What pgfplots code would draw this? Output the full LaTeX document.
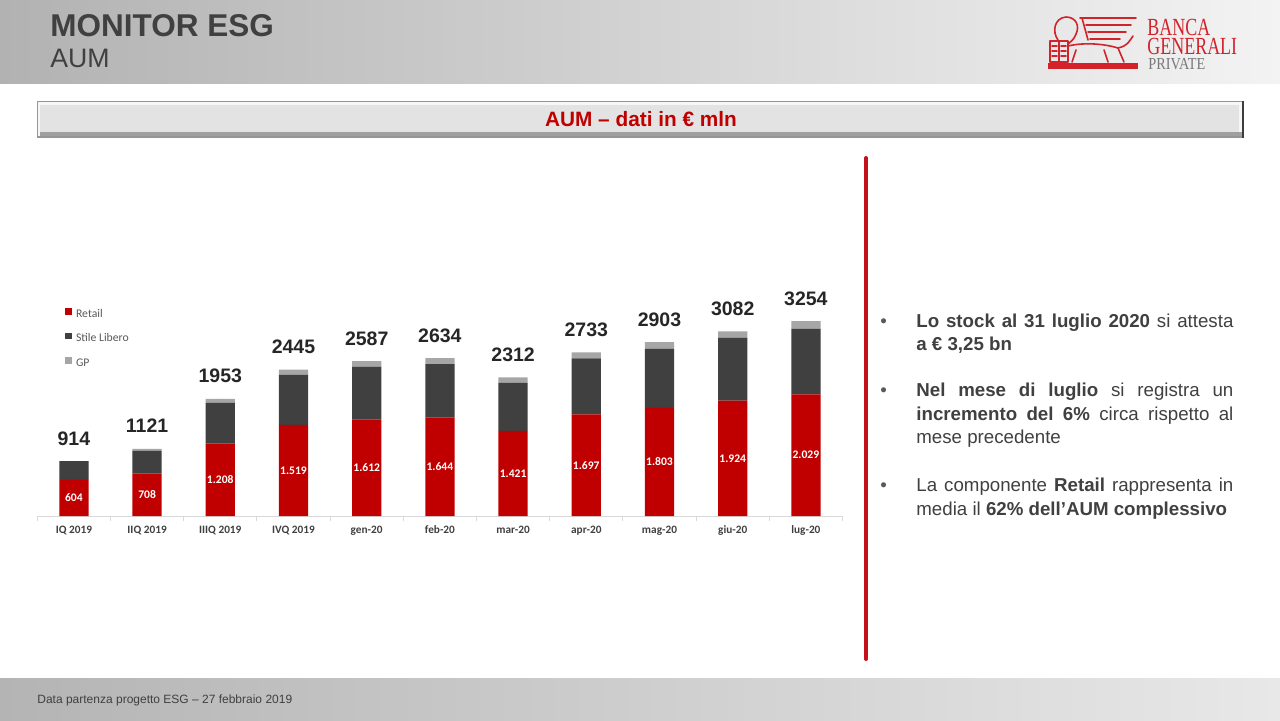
\documentclass[border=0pt]{standalone}
\usepackage{pgfplots}
\pgfplotsset{compat=1.18}
\usepackage{pgfplotstable}
\usepackage{fontspec}
\setmainfont{Liberation Sans}
\newfontfamily\calfont{Carlito}
\newfontfamily\logoserif[FakeStretch=0.73]{Liberation Serif}
\newfontfamily\logoserifp[FakeStretch=0.85]{Liberation Serif}
\definecolor{bgred}{HTML}{C00000}
\definecolor{bgdark}{HTML}{404040}
\definecolor{bggp}{HTML}{A6A6A6}
\definecolor{logored}{HTML}{D2232A}
\definecolor{logogray}{HTML}{787878}
\definecolor{txt}{HTML}{404040}
\definecolor{bullgray}{HTML}{595959}
\definecolor{totc}{HTML}{262626}
\definecolor{vline}{HTML}{C3121C}
\definecolor{axgray}{HTML}{D9D9D9}
\definecolor{hdl}{HTML}{B2B2B2}
\definecolor{hdr}{HTML}{F3F3F3}
\definecolor{ftl}{HTML}{B4B4B4}
\definecolor{ftr}{HTML}{E8E8E8}
\definecolor{tbout}{HTML}{969696}
\definecolor{tblight}{HTML}{F6F6F6}
\definecolor{tbshadow}{HTML}{A0A0A0}
\definecolor{tbfill}{HTML}{E3E3E3}
\definecolor{tbdark}{HTML}{3C3C3C}
\pgfplotsset{sqlegend/.style={legend image code/.code={\fill[##1] (0pt,-0.2pt) rectangle (3.35pt,3.15pt);}}}

\pgfplotstableread{
x retail sl gp total rlab
0 604 310 0 914 604
1 708 378 35 1121 708
2 1208 685 60 1953 1.208
3 1519 836 90 2445 1.519
4 1612 880 95 2587 1.612
5 1644 890 100 2634 1.644
6 1421 801 90 2312 1.421
7 1697 936 100 2733 1.697
8 1803 990 110 2903 1.803
9 1924 1053 105 3082 1.924
10 2029 1095 130 3254 2.029
}\aum

\begin{document}
\begin{tikzpicture}[x=0.5pt,y=0.5pt]
\useasboundingbox (0,0) rectangle (1280,720);
\fill[white] (0,0) rectangle (1280,720);
\begin{scope}[y=-0.5pt, yshift=360pt]
% header
\shade[left color=hdl, right color=hdr] (0,0) rectangle (1280,83);
\node[anchor=base west, inner sep=0pt, text=txt, font=\bfseries\fontsize{15.75pt}{16pt}\selectfont] at (50,36) {MONITOR ESG};
\node[anchor=base west, inner sep=0pt, text=txt, font=\fontsize{13.35pt}{14pt}\selectfont] at (50,67) {AUM};
% logo
\begin{scope}[logored, line width=0.8pt, line cap=round, line join=round]
 \fill (1048,63) rectangle (1138,69);
 \draw (1050,41) rectangle (1068,62);
 \draw (1059,41)--(1059,62);
 \foreach \yy in {46,51,56} {\draw (1052,\yy)--(1057,\yy); \draw (1061,\yy)--(1066,\yy);}
 \draw (1058,40) .. controls (1052,32) and (1054,18) .. (1066,17) .. controls (1076,17) and (1080,26) .. (1076,34) .. controls (1074,40) and (1070,42) .. (1068,44);
 \draw (1080,18) -- (1136,18);
 \draw (1082,18) -- (1088,40);
 \draw (1086,25) -- (1131,25);
 \draw (1088,32) -- (1126,32);
 \draw (1090,39) -- (1120,39);
 \draw (1068,46) .. controls (1085,42) and (1105,44) .. (1118,48) -- (1124,62);
 \draw (1072,62) -- (1076,50);
 \draw (1108,62) -- (1104,50);
 \draw (1118,48) .. controls (1128,46) and (1130,40) .. (1133,36);
\end{scope}
\node[anchor=base west, inner sep=0pt, text=logored, font=\logoserif\fontsize{12.3pt}{13pt}\selectfont] at (1147,35) {BANCA};
\node[anchor=base west, inner sep=0pt, text=logored, font=\logoserif\fontsize{12.3pt}{13pt}\selectfont] at (1147,54.5) {GENERALI};
\node[anchor=base west, inner sep=0pt, text=logogray, font=\logoserifp\fontsize{8.4pt}{9pt}\selectfont] at (1148,69.5) {PRIVATE};
% title bar
\fill[tbout] (37,101) rectangle (1244,138);
\fill[tblight] (38,102) rectangle (1242,136);
\fill[tbshadow] (40,132) rectangle (1242,136);
\fill[tbfill] (40,105) rectangle (1239,132);
\fill[tbdark] (1242,101) rectangle (1244,138);
\node[anchor=base, inner sep=0pt, text=bgred, font=\bfseries\fontsize{10.4pt}{11pt}\selectfont] at (641,126.5) {AUM – dati in € mln};
% vertical red line
\draw[vline, line width=2pt, line cap=round] (866,158) -- (866,659);
% bullets
\begin{scope}[every node/.style={anchor=base west, inner sep=0pt, text=txt, font=\fontsize{9.35pt}{11.65pt}\selectfont}]
\node[text=bullgray] at (880,327) {•};
\node[text=bullgray] at (880,396.7) {•};
\node[text=bullgray] at (880,491.7) {•};
\node at (916,327) {\makebox[158.5pt][s]{\textbf{Lo stock al 31 luglio 2020} si attesta}};
\node at (916,350.3) {\textbf{a € 3,25 bn}};
\node at (916,396.7) {\makebox[158.5pt][s]{\textbf{Nel mese di luglio} si registra un}};
\node at (916,420) {\makebox[158.5pt][s]{\textbf{incremento del 6\%} circa rispetto al}};
\node at (916,443.3) {mese precedente};
\node at (916,491.7) {\makebox[158.5pt][s]{La componente \textbf{Retail} rappresenta in}};
\node at (916,515) {media il \textbf{62\% dell’AUM complessivo}};
\end{scope}
% footer
\shade[left color=ftl, right color=ftr] (0,678) rectangle (1280,720);
\node[anchor=base west, inner sep=0pt, text=txt, font=\fontsize{6pt}{7pt}\selectfont] at (37,703) {Data partenza progetto ESG – 27 febbraio 2019};
\end{scope}
% chart
\begin{axis}[
  at={(18.65pt,102pt)}, anchor=south west,
  scale only axis, width=402.6pt, height=104.85pt,
  xmin=-0.5, xmax=10.5, ymin=0, ymax=3500,
  ybar stacked, bar width=0.4,
  axis x line=bottom, axis y line=none,
  x axis line style={-, draw=axgray, line width=0.5pt},
  xtick={0,...,10},
  xticklabels={IQ 2019, IIQ 2019, IIIQ 2019, IVQ 2019, gen-20, feb-20, mar-20, apr-20, mag-20, giu-20, lug-20},
  major tick length=0pt,
  minor xtick={-0.5,0.5,...,10.5},
  minor tick length=2.5pt,
  tick align=outside,
  minor tick style={draw=axgray, line width=0.5pt},
  xticklabel style={font=\calfont\bfseries\fontsize{5.65pt}{6pt}\selectfont, text=txt, anchor=base, yshift=-8.5pt},
  legend style={at={(axis description cs:0.0344,0.993)}, anchor=north west, draw=none, fill=none, inner sep=0pt, row sep=6.6pt,
    font=\calfont\fontsize{5.85pt}{6pt}\selectfont, text=bullgray,
    nodes={inner sep=0pt, text height=4pt, text depth=1pt},
    /tikz/every odd column/.append style={column sep=2pt}},
  legend cell align=left,
  clip=false,
]
\addplot[fill=bgred, draw=none, sqlegend] table[x=x,y=retail]{\aum};
\addlegendentry{Retail}
\addplot[fill=bgdark, draw=none, sqlegend] table[x=x,y=sl]{\aum};
\addlegendentry{Stile Libero}
\addplot[fill=bggp, draw=none, sqlegend] table[x=x,y=gp]{\aum};
\addlegendentry{GP}
\end{axis}
\begin{axis}[
  at={(18.65pt,102pt)}, anchor=south west,
  scale only axis, width=402.6pt, height=104.85pt,
  xmin=-0.5, xmax=10.5, ymin=0, ymax=3500,
  hide axis, clip=false,
]
\addplot[only marks, mark=*, mark size=0pt, mark options={draw=none,fill=none}, nodes near coords, point meta=explicit symbolic,
  nodes near coords style={font=\calfont\bfseries\fontsize{5.8pt}{6pt}\selectfont, text=white, anchor=center, inner sep=0pt}]
  table[x=x, y expr=\thisrow{retail}/2, meta=rlab]{\aum};
\addplot[only marks, mark=*, mark size=0pt, mark options={draw=none,fill=none}, nodes near coords, point meta=explicit symbolic,
  nodes near coords style={font=\bfseries\fontsize{9.75pt}{10pt}\selectfont, text=totc, anchor=base, yshift=8pt, inner sep=0pt}]
  table[x=x, y=total, meta=total]{\aum};
\end{axis}
\end{tikzpicture}
\end{document}
